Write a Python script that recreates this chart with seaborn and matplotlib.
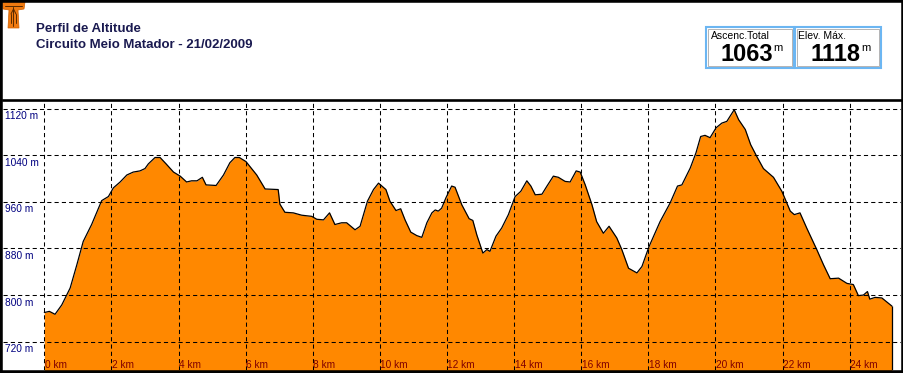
import matplotlib
matplotlib.use("Agg")
import matplotlib.pyplot as plt
import seaborn as sns
import pandas as pd
from matplotlib import font_manager
from matplotlib.patches import Rectangle, Polygon
from matplotlib.lines import Line2D

# ---------------- data ----------------
km = [0.00, 0.15, 0.32, 0.52, 0.77, 0.97, 1.16, 1.41, 1.71, 1.91, 2.06, 2.26, 2.46, 2.65,
      2.85, 3.00, 3.10, 3.30, 3.45, 3.63, 3.85, 4.05, 4.24, 4.39, 4.55, 4.71, 4.82, 5.12,
      5.34, 5.53, 5.68, 5.81, 6.01, 6.33, 6.58, 6.97, 7.02, 7.17, 7.42, 7.67, 7.97, 8.12,
      8.32, 8.50, 8.66, 8.86, 9.01, 9.26, 9.41, 9.63, 9.81, 9.96, 10.18, 10.30, 10.48,
      10.62, 10.75, 10.92, 11.10, 11.25, 11.40, 11.55, 11.65, 11.74, 11.84, 11.97, 12.14,
      12.24, 12.44, 12.66, 12.77, 12.89, 13.07, 13.19, 13.28, 13.46, 13.63, 13.83, 14.03,
      14.20, 14.38, 14.50, 14.63, 14.83, 14.98, 15.17, 15.32, 15.52, 15.67, 15.85, 15.97,
      16.12, 16.32, 16.46, 16.66, 16.83, 17.06, 17.21, 17.41, 17.66, 17.81, 18.02, 18.35,
      18.65, 18.87, 19.00, 19.25, 19.42, 19.56, 19.69, 19.84, 20.02, 20.19, 20.34, 20.56,
      20.69, 20.89, 21.05, 21.23, 21.43, 21.73, 21.98, 22.23, 22.35, 22.52, 22.72, 23.02,
      23.22, 23.42, 23.67, 23.92, 24.11, 24.26, 24.41, 24.53, 24.60, 24.76, 24.96, 25.26]
elev = [770, 772, 767, 783, 812, 852, 892, 921, 962, 969, 984, 994, 1006, 1011,
        1013, 1017, 1025, 1036, 1036, 1025, 1011, 1004, 994, 996, 996, 1002, 989, 988,
        1006, 1027, 1036, 1036, 1029, 1006, 982, 981, 956, 942, 941, 937, 935, 930,
        929, 941, 921, 924, 924, 912, 918, 961, 981, 992, 981, 961, 945,
        948, 929, 908, 902, 899, 924, 941, 946, 944, 949, 967, 987,
        985, 955, 931, 928, 903, 872, 878, 875, 901, 915, 938, 969,
        978, 996, 987, 972, 973, 987, 1004, 1002, 995, 994, 1013, 1011,
        989, 955, 926, 906, 918, 898, 878, 846, 838, 849, 883, 926,
        958, 987, 989, 1018, 1044, 1072, 1074, 1070, 1087, 1095, 1098, 1118,
        1101, 1084, 1058, 1038, 1017, 1002, 978, 944, 938, 941, 915, 878,
        852, 828, 829, 820, 818, 799, 800, 806, 793, 796, 795, 781]
x_ticks = [0, 2, 4, 6, 8, 10, 12, 14, 16, 18, 20, 22, 24]
y_ticks = [720, 800, 880, 960, 1040, 1120]
title = "Perfil de Altitude"
subtitle = "Circuito Meio Matador - 21/02/2009"
stat_labels = ["Ascenc.Total", "Elev. Máx."]
stat_values = ["1063", "1118"]

# ---------------- style ----------------
sns.set_theme(style="white")
plt.rcParams["font.family"] = ["Liberation Sans", "DejaVu Sans"]

names = {f.name for f in font_manager.fontManager.ttflist}
if "Liberation Sans Narrow" in names:
    big_family, big_size = ["Liberation Sans Narrow", "DejaVu Sans"], 20
elif "DejaVu Sans Condensed" in names:
    big_family, big_size = ["DejaVu Sans Condensed"], 18
else:
    big_family, big_size = ["Liberation Sans", "DejaVu Sans"], 17

W, H = 904, 373
fig = plt.figure(figsize=(W / 100, H / 100), dpi=100)
fig.patch.set_facecolor("white")


def fx(X):
    return X / W


def fy(Y):
    return 1 - Y / H


ax = fig.add_axes([fx(3), fy(370), (901 - 3) / W, (370 - 99.5) / H])
ax.set_xlim(-1.231, 25.53)
ax.set_ylim(671.4, 1135.5)
ybot = ax.get_ylim()[0]

df = pd.DataFrame({"km": km, "elev": elev})
ax.fill_between(df["km"], df["elev"], ybot - 20, color="#FF8800", lw=0, zorder=1)
sns.lineplot(data=df, x="km", y="elev", ax=ax, color="black", lw=0.9,
             estimator=None, sort=False, zorder=2)
ax.vlines(km[-1], ybot - 20, elev[-1], color="black", lw=0.9, zorder=2)

ax.set_xticks(x_ticks)
ax.set_yticks(y_ticks)
ax.grid(True, color="black", lw=0.75, ls=(0, (4, 3)))
ax.set_axisbelow(False)
ax.tick_params(length=0, labelbottom=False, labelleft=False)
ax.set_xlabel("")
ax.set_ylabel("")
for s in ["left", "right", "bottom"]:
    ax.spines[s].set_visible(False)
ax.spines["top"].set_color("black")
ax.spines["top"].set_linewidth(1.9)

for v in y_ticks:
    ax.annotate(f"{v} m", xy=(0.0025, v), xycoords=("axes fraction", "data"),
                xytext=(0, -2.5), textcoords="offset pixels", ha="left", va="top",
                fontsize=7.3, color="#000080", zorder=5)
for k in x_ticks:
    ax.annotate(f"{k} km", xy=(k, 0), xycoords=("data", "axes fraction"),
                xytext=(0.5, 1.5), textcoords="offset pixels", ha="left", va="baseline",
                fontsize=7.3, color="#800000", zorder=5)

# ---------------- header ----------------
fig.text(fx(36), fy(32), title, fontsize=9.5, fontweight="bold", color="#1a1a50", va="baseline")
fig.text(fx(36), fy(48), subtitle, fontsize=9.5, fontweight="bold", color="#1a1a50", va="baseline")

# logo (orange T)
logo = Polygon([(fx(2), fy(2)), (fx(25), fy(2)), (fx(24), fy(9)), (fx(18), fy(10)),
                (fx(19), fy(28)), (fx(8), fy(28)), (fx(9), fy(10)), (fx(3), fy(9))],
               closed=True, transform=fig.transFigure, facecolor="#F07A10",
               edgecolor="#D06000", lw=0.5)
fig.add_artist(logo)
for xs, ys in [([5, 22], [6, 6]), ([13.5, 13.5], [7, 26]), ([11, 13.5, 16], [14, 9, 14]),
               ([11, 11], [14, 23]), ([16, 16], [14, 23])]:
    fig.add_artist(Line2D([fx(x) for x in xs], [fy(y) for y in ys],
                          transform=fig.transFigure, color="#5a2a00", lw=0.7))

# stat boxes
boxes = [(706.5, 794.0), (795.0, 881.0)]
label_x = [711, 798]
value_right = [772.7, 860.7]
for (x0, x1), lab, val, lx, vr in zip(boxes, stat_labels, stat_values, label_x, value_right):
    fig.add_artist(Rectangle((fx(x0), fy(67.5)), (x1 - x0) / W, (67.5 - 26.5) / H,
                             transform=fig.transFigure, fill=False,
                             edgecolor="#6cb6f2", lw=1.5))
    fig.add_artist(Rectangle((fx(x0 + 2), fy(65.5)), (x1 - x0 - 4) / W, (65.5 - 28.5) / H,
                             transform=fig.transFigure, fill=False,
                             edgecolor="#a8a8a8", lw=0.6))
    fig.text(fx(lx), fy(38.7), lab, fontsize=7.5, color="black", va="baseline")
    fig.text(fx(vr), fy(61.3), val, fontsize=big_size, fontweight="bold", color="black",
             family=big_family, ha="right", va="baseline")
    fig.text(fx(vr + 1), fy(51.3), "m", fontsize=8, color="black", va="baseline",
             family=big_family)

# outer frame
fig.add_artist(Rectangle((0, 0), 1, 1, transform=fig.transFigure, fill=False,
                         edgecolor="black", lw=4.0, zorder=10))

fig.savefig("out.png", dpi=100, facecolor="white")
